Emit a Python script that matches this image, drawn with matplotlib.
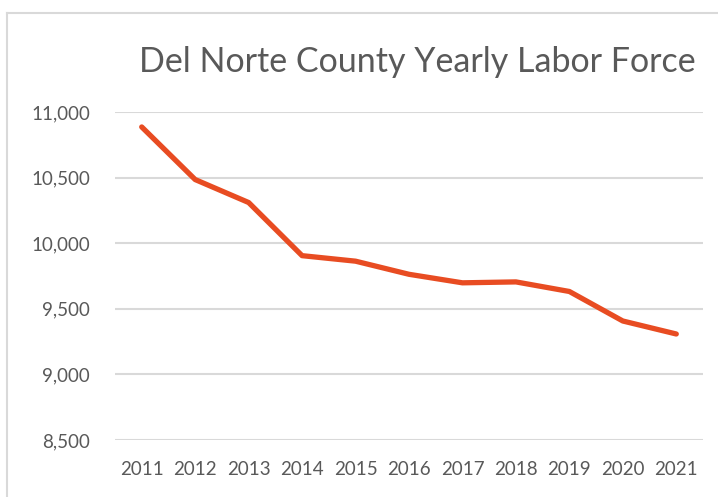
import matplotlib.pyplot as plt
from matplotlib.lines import Line2D
from matplotlib.ticker import FuncFormatter

# Del Norte County yearly labor force
years = ["2011", "2012", "2013", "2014", "2015", "2016",
         "2017", "2018", "2019", "2020", "2021"]
labor_force = [10886, 10485, 10310, 9905, 9863, 9763,
               9698, 9705, 9632, 9407, 9308]
y_ticks = [8500, 9000, 9500, 10000, 10500, 11000]

LINE_COLOR = "#E84C22"
GRID_COLOR = "#D9D9D9"
TEXT_COLOR = "#595959"

plt.rcParams["font.family"] = ["Lato", "DejaVu Sans"]

fig = plt.figure(figsize=(7.18, 4.97), dpi=100)
W, H = 718, 497

# chart-area frame (only left and top edges visible in the crop)
fig.add_artist(Line2D([7 / W, 7 / W], [0, 1 - 13 / H],
                      transform=fig.transFigure, color=GRID_COLOR, lw=1.5))
fig.add_artist(Line2D([7 / W, 1], [1 - 13 / H, 1 - 13 / H],
                      transform=fig.transFigure, color=GRID_COLOR, lw=1.5))

ax = fig.add_axes([115 / W, 1 - 440 / H, (703 - 115) / W, (440 - 112) / H])

x = list(range(len(years)))
ax.plot(x, labor_force, color=LINE_COLOR, lw=3.8,
        solid_capstyle="round", solid_joinstyle="round", zorder=3)

ax.set_xlim(-0.5, len(years) - 0.5)
ax.set_ylim(y_ticks[0], y_ticks[-1])
ax.set_yticks(y_ticks)
ax.yaxis.set_major_formatter(FuncFormatter(lambda v, _: f"{int(v):,}"))
ax.set_xticks(x)
ax.set_xticklabels(years)

ax.grid(axis="y", color=GRID_COLOR, lw=1.5)
ax.set_axisbelow(True)
for s in ax.spines.values():
    s.set_visible(False)
ax.tick_params(axis="both", length=0, labelsize=13.5, colors=TEXT_COLOR)
ax.tick_params(axis="y", pad=18)
ax.tick_params(axis="x", pad=15)

fig.text(417 / W, 1 - 62 / H, "Del Norte County Yearly Labor Force",
         ha="center", va="center", fontsize=24.5, color=TEXT_COLOR)

fig.savefig("out.png", dpi=100)
